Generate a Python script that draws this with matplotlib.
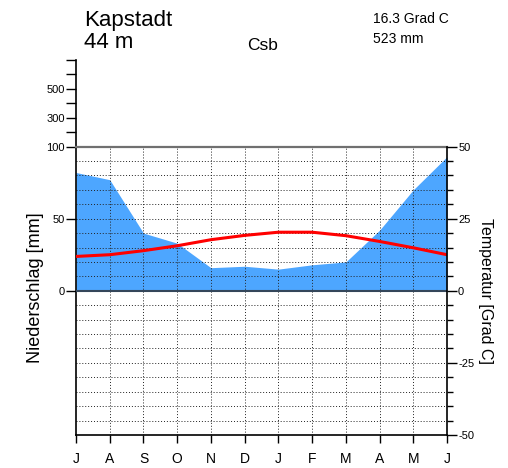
import numpy as np
import matplotlib
matplotlib.use('Agg')
import matplotlib.pyplot as plt

plt.rcParams['font.family'] = ['Liberation Sans', 'DejaVu Sans']

# Kapstadt, Monate Juli bis Juni
months = ['J', 'A', 'S', 'O', 'N', 'D', 'J', 'F', 'M', 'A', 'M', 'J']
precip = [82, 77, 40, 33, 16, 17, 15, 18, 20, 42, 70, 93]           # mm
temp = [11.9, 12.5, 13.9, 15.6, 17.7, 19.2, 20.3, 20.3, 19.1, 17.1, 14.9, 12.5]  # Grad C

station = 'Kapstadt'
height = '44 m'
klima = 'Csb'
t_mean = '16.3 Grad C'
p_sum = '523 mm'

left_ticks = [0, 25, 50, 55, 60, 65, 70, 75, 80]
left_labels = ['0', '50', '100', '', '300', '', '500', '', '']
right_ticks = [-50, -25, 0, 25, 50]

x = np.arange(len(months))
# 0-100 mm -> 0-50 (Temperaturskala)
p_scaled = np.array(precip) / 2.0

fig = plt.figure(figsize=(5.08, 4.68), dpi=100)
ax = fig.add_axes([76 / 508, 33 / 468, 371 / 508, 375 / 468])
ax.set_xlim(0, 11)
ax.set_ylim(-50, 80)

ax.fill_between(x, 0, p_scaled, color='#4da6ff', lw=0, zorder=1)

# Gitter
dots = (0, (1, 2))
for yy in range(-45, 50, 5):
    if yy == 0:
        continue
    ax.plot([0, 11], [yy, yy], color='#222222', lw=0.7, ls=dots, zorder=2)
for xx in x[1:-1]:
    ax.plot([xx, xx], [-50, 50], color='#222222', lw=0.7, ls=dots, zorder=2)

ax.plot([0, 11], [0, 0], color='#34465a', lw=1.5, zorder=3)
ax.plot([0, 11], [50, 50], color='#707070', lw=1.6, zorder=3, clip_on=False)

ax.plot(x, temp, color='red', lw=2.2, zorder=4)

for s in ['top', 'right']:
    ax.spines[s].set_visible(False)
ax.spines['left'].set_bounds(-50, 80)
ax.spines['left'].set_linewidth(1.2)
ax.spines['bottom'].set_linewidth(1.2)

ax.set_xticks(x)
ax.set_xticklabels(months, fontsize=10)
ax.tick_params(axis='x', length=6, width=1, pad=6)
ax.set_yticks(left_ticks)
ax.set_yticklabels(left_labels, fontsize=8)
ax.tick_params(axis='y', length=7, width=1, pad=1)

ax2 = ax.twinx()
ax2.set_ylim(-50, 80)
for s in ['top', 'left', 'bottom']:
    ax2.spines[s].set_visible(False)
ax2.spines['right'].set_bounds(-50, 50)
ax2.spines['right'].set_linewidth(1.2)
ax2.set_yticks(right_ticks)
ax2.set_yticks(range(-45, 50, 5), minor=True)
ax2.set_yticklabels([str(t) for t in right_ticks], fontsize=8)
ax2.tick_params(axis='y', which='major', length=7, width=1, pad=1)
ax2.tick_params(axis='y', which='minor', length=4, width=1)

fig.text(36 / 508, 1 - 288 / 468, 'Niederschlag [mm]', rotation=90,
         ha='center', va='center', fontsize=13)
fig.text(485 / 508, 1 - 291 / 468, 'Temperatur [Grad C]', rotation=270,
         ha='center', va='center', fontsize=11.5)

fig.text(84 / 508, 1 - 26 / 468, station, fontsize=16, va='baseline')
fig.text(84 / 508, 1 - 48 / 468, height, fontsize=16, va='baseline')
fig.text(247 / 508, 1 - 50 / 468, klima, fontsize=12.5, va='baseline')
fig.text(373 / 508, 1 - 23 / 468, t_mean, fontsize=10, va='baseline')
fig.text(373 / 508, 1 - 43 / 468, p_sum, fontsize=10, va='baseline')

fig.savefig('out.png', dpi=100)
